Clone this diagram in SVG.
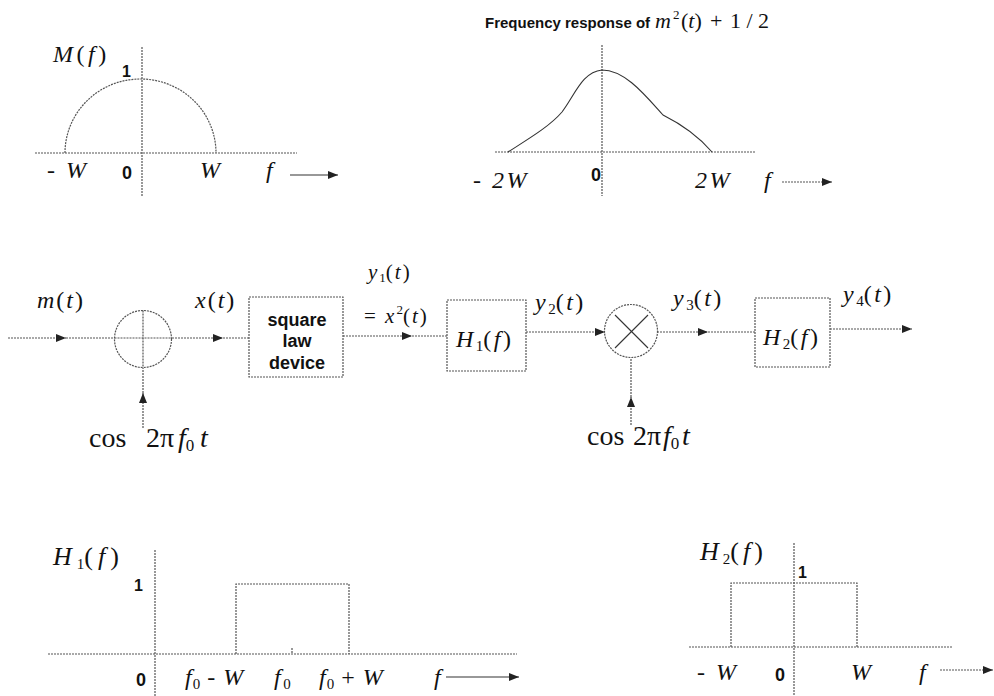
<svg xmlns="http://www.w3.org/2000/svg" width="994" height="696" viewBox="0 0 994 696">
<defs>
<marker id="ah" viewBox="0 0 10 8" refX="10" refY="4" markerWidth="10" markerHeight="8" markerUnits="userSpaceOnUse" orient="auto">
<path d="M0,0 L10,4 L0,8 Z" fill="#222"/>
</marker>
</defs>
<style>
.ln{stroke:#555;stroke-width:1.2;stroke-dasharray:2 1;fill:none}
.sl{stroke:#333;stroke-width:1.1;fill:none}
.m{font-family:"Liberation Serif","Times New Roman",serif;font-size:24px;letter-spacing:2.5px;fill:#111}
.i{font-style:italic}
.sb{font-size:15px;letter-spacing:0}
.b{font-family:"Liberation Sans",Arial,sans-serif;font-weight:bold;font-size:16px;fill:#111}
.cm{font-family:"Liberation Serif","Times New Roman",serif;font-size:28px;fill:#111}
</style>
<rect width="994" height="696" fill="#fff"/>

<g id="plot-M">
<line class="ln" x1="142" y1="47" x2="142" y2="197"/>
<line class="ln" x1="35" y1="153" x2="297" y2="153"/>
<path class="ln" d="M65,153 A75.5,74 0 0 1 216,153"/>
<text class="m" x="53" y="62" style="letter-spacing:3.5px"><tspan class="i">M</tspan>(<tspan class="i">f</tspan>)</text>
<text class="b" x="122" y="77">1</text>
<text class="m" x="47" y="178">- <tspan class="i">W</tspan></text>
<text class="b" x="122" y="179" style="font-size:18px">0</text>
<text class="m i" x="200" y="178">W</text>
<text class="m i" x="266" y="178">f</text>
<line class="sl" x1="290" y1="175" x2="338" y2="175" marker-end="url(#ah)"/>
</g>

<g id="plot-m2">
<text class="b" x="485" y="28" style="font-size:15px">Frequency response of</text>
<text class="m" x="655" y="28" style="font-size:22px;letter-spacing:0"><tspan class="i">m</tspan><tspan x="673" dy="-9" style="font-size:13px">2</tspan><tspan x="681" dy="9">(<tspan class="i">t</tspan>)</tspan><tspan x="710">+</tspan><tspan x="730">1 / 2</tspan></text>
<line class="ln" x1="602" y1="45" x2="602" y2="196"/>
<line class="ln" x1="495" y1="152" x2="755" y2="152"/>
<path class="sl" stroke="#444" d="M508,152 C530,138 550,126 562,112 C575,95 582,72 602,70 C625,70 645,95 663,115 C685,126 700,138 712,152"/>
<text class="m" x="473" y="188">- <tspan class="i">2W</tspan></text>
<text class="b" x="591" y="181" style="font-size:18px">0</text>
<text class="m i" x="695" y="188">2W</text>
<text class="m i" x="764" y="188">f</text>
<line class="ln" x1="782" y1="182" x2="832" y2="182" marker-end="url(#ah)"/>
</g>

<g id="adder">
<circle class="ln" cx="143" cy="339" r="28.5"/>
<line class="ln" x1="114.5" y1="338" x2="171.5" y2="338"/>
<line class="ln" x1="143" y1="310.5" x2="143" y2="367.5"/>
</g>
<g id="square-law">
<rect class="ln" x="249" y="297" width="94" height="80"/>
<text class="b" x="297" y="326" text-anchor="middle" style="font-size:18px">square</text>
<text class="b" x="297" y="347" text-anchor="middle" style="font-size:18px">law</text>
<text class="b" x="297" y="369" text-anchor="middle" style="font-size:18px">device</text>
</g>
<g id="H1">
<rect class="ln" x="447" y="300" width="79" height="71"/>
<text class="m" x="456" y="347"><tspan class="i">H</tspan><tspan class="sb" dy="4">1</tspan><tspan dy="-4">(</tspan><tspan class="i">f</tspan>)</text>
</g>
<g id="multiplier">
<circle class="ln" cx="631" cy="331" r="26.5"/>
<line class="sl" x1="615" y1="315" x2="648" y2="348"/>
<line class="sl" x1="648" y1="315" x2="615" y2="348"/>
</g>
<g id="H2">
<rect class="ln" x="755" y="298" width="75" height="69"/>
<text class="m" x="763" y="345"><tspan class="i">H</tspan><tspan class="sb" dy="4">2</tspan><tspan dy="-4">(</tspan><tspan class="i">f</tspan>)</text>
</g>

<g id="connectors">
<line class="ln" x1="8" y1="338" x2="66" y2="338" marker-end="url(#ah)"/>
<line class="ln" x1="66" y1="338" x2="114" y2="338"/>
<line class="ln" x1="143" y1="428" x2="143" y2="393" marker-end="url(#ah)"/>
<line class="ln" x1="143" y1="393" x2="143" y2="368"/>
<line class="ln" x1="172" y1="338" x2="223" y2="338" marker-end="url(#ah)"/>
<line class="ln" x1="223" y1="338" x2="249" y2="338"/>
<line class="ln" x1="343" y1="336" x2="412" y2="336" marker-end="url(#ah)"/>
<line class="ln" x1="412" y1="336" x2="447" y2="336"/>
<line class="ln" x1="526" y1="332" x2="605" y2="332" marker-end="url(#ah)"/>
<line class="ln" x1="631" y1="425" x2="631" y2="397" marker-end="url(#ah)"/>
<line class="ln" x1="631" y1="397" x2="631" y2="358"/>
<line class="ln" x1="657" y1="332" x2="708" y2="332" marker-end="url(#ah)"/>
<line class="ln" x1="708" y1="332" x2="755" y2="332"/>
<line class="ln" x1="830" y1="329" x2="912" y2="329" marker-end="url(#ah)"/>
</g>

<g id="labels">
<text class="m" x="37" y="308" style="letter-spacing:2px"><tspan class="i">m</tspan>(<tspan class="i">t</tspan>)</text>
<text class="m" x="195" y="308" style="letter-spacing:2px"><tspan class="i">x</tspan>(<tspan class="i">t</tspan>)</text>
<text class="m" x="368" y="279" style="font-size:21px;letter-spacing:2px"><tspan class="i">y</tspan><tspan class="sb" style="font-size:13px" dy="3">1</tspan><tspan dy="-3">(</tspan><tspan class="i">t</tspan>)</text>
<text class="m" x="364" y="323" style="font-size:21px;letter-spacing:2px">= <tspan class="i">x</tspan><tspan class="sb" style="font-size:13px" dy="-9">2</tspan><tspan dy="9">(</tspan><tspan class="i">t</tspan>)</text>
<text class="m" x="535" y="310"><tspan class="i">y</tspan><tspan class="sb" dy="4">2</tspan><tspan dy="-4">(</tspan><tspan class="i">t</tspan>)</text>
<text class="m" x="673" y="306"><tspan class="i">y</tspan><tspan class="sb" dy="4">3</tspan><tspan dy="-4">(</tspan><tspan class="i">t</tspan>)</text>
<text class="m" x="843" y="302"><tspan class="i">y</tspan><tspan class="sb" dy="4">4</tspan><tspan dy="-4">(</tspan><tspan class="i">t</tspan>)</text>
<text class="cm" x="89" y="447">cos<tspan x="146">2π</tspan><tspan x="178" class="i">f</tspan><tspan style="font-size:17px" dy="4">0</tspan><tspan x="200" class="i" dy="-4">t</tspan></text>
<text class="cm" x="587" y="445">cos<tspan x="633">2π</tspan><tspan x="663" class="i">f</tspan><tspan style="font-size:17px" dy="4">0</tspan><tspan x="682" class="i" dy="-4">t</tspan></text>
</g>

<g id="plot-H1">
<line class="ln" x1="155" y1="550" x2="155" y2="696"/>
<line class="ln" x1="48" y1="654" x2="517" y2="654"/>
<polyline class="ln" points="236,654 236,584 349,584 349,654"/>
<line class="ln" x1="292" y1="648" x2="292" y2="654"/>
<text class="m" x="53" y="565" style="font-size:26px;letter-spacing:5px"><tspan class="i">H</tspan><tspan class="sb" dy="4">1</tspan><tspan dy="-4">(</tspan><tspan class="i">f</tspan>)</text>
<text class="b" x="134" y="591">1</text>
<text class="b" x="136" y="686" style="font-size:18px">0</text>
<text class="m" x="185" y="685" style="letter-spacing:1px"><tspan class="i">f</tspan><tspan class="sb" dy="4">0</tspan><tspan dy="-4"> - </tspan><tspan class="i">W</tspan></text>
<text class="m" x="274" y="685"><tspan class="i">f</tspan><tspan class="sb" dy="4">0</tspan></text>
<text class="m" x="319" y="685" style="letter-spacing:1px"><tspan class="i">f</tspan><tspan class="sb" dy="4">0</tspan><tspan dy="-4"> + </tspan><tspan class="i">W</tspan></text>
<text class="m i" x="434" y="685">f</text>
<line class="sl" x1="446" y1="677" x2="519" y2="677" marker-end="url(#ah)"/>
</g>

<g id="plot-H2">
<line class="ln" x1="794" y1="543" x2="794" y2="696"/>
<line class="ln" x1="689" y1="647" x2="952" y2="647"/>
<polyline class="ln" points="731,647 731,583 857,583 857,647"/>
<text class="m" x="700" y="560" style="font-size:26px;letter-spacing:4px"><tspan class="i">H</tspan><tspan class="sb" dy="4">2</tspan><tspan dy="-4">(</tspan><tspan class="i">f</tspan>)</text>
<text class="b" x="798" y="578">1</text>
<text class="m" x="697" y="680">- <tspan class="i">W</tspan></text>
<text class="b" x="775" y="681" style="font-size:18px">0</text>
<text class="m i" x="851" y="680">W</text>
<text class="m i" x="919" y="680">f</text>
<line class="ln" x1="940" y1="670" x2="993" y2="670" marker-end="url(#ah)"/>
</g>
</svg>
